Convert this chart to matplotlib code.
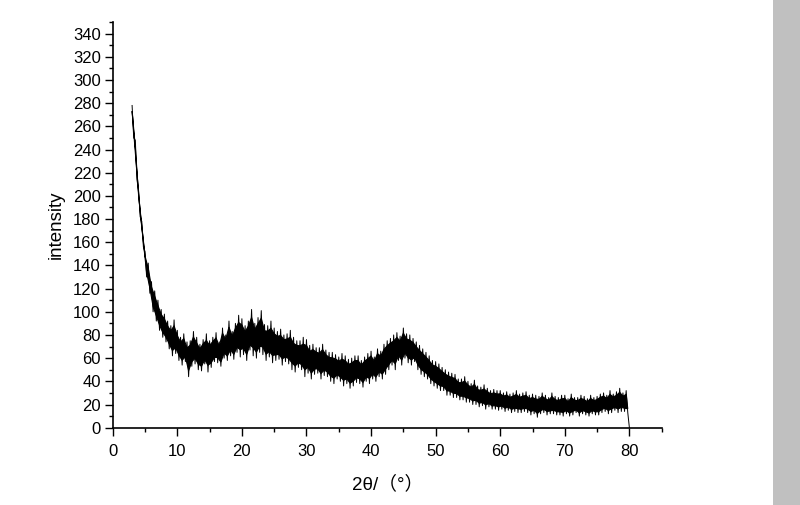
import matplotlib
matplotlib.use("Agg")
import matplotlib.pyplot as plt
import numpy as np
from matplotlib.patches import Rectangle, Polygon

# 2theta sampled every 0.25 deg from 3 to 80; intensity read off the scan as
# local highs / lows (one row per degree: x, x+.25, x+.5, x+.75)
two_theta = np.arange(3, 80.001, 0.25)
intensity = [
    278, 250, 248, 214,   # 3
    205, 182, 178, 156,   # 4
    152, 130, 142, 116,   # 5
    126, 100, 118, 92,    # 6
    110, 84, 102, 78,     # 7
    98, 74, 92, 68,       # 8
    88, 62, 93, 64,       # 9
    84, 58, 78, 54,       # 10
    81, 57, 74, 44,       # 11
    75, 53, 83, 55,       # 12
    78, 50, 72, 49,       # 13
    76, 55, 81, 48,       # 14
    75, 52, 78, 57,       # 15
    82, 56, 74, 53,       # 16
    86, 60, 80, 58,       # 17
    92, 62, 83, 59,       # 18
    90, 65, 97, 61,       # 19
    94, 63, 88, 58,       # 20
    92, 67, 102, 62,      # 21
    90, 60, 95, 65,       # 22
    101, 63, 89, 58,      # 23
    88, 61, 92, 56,       # 24
    86, 58, 83, 59,       # 25
    85, 54, 80, 57,       # 26
    81, 55, 84, 50,       # 27
    78, 48, 75, 52,       # 28
    75, 50, 78, 44,       # 29
    76, 47, 71, 42,       # 30
    72, 46, 69, 47,       # 31
    69, 42, 72, 45,       # 32
    67, 44, 65, 40,       # 33
    65, 38, 63, 42,       # 34
    61, 40, 64, 36,       # 35
    62, 38, 59, 34,       # 36
    60, 36, 62, 39,       # 37
    62, 38, 58, 35,       # 38
    61, 40, 64, 38,       # 39
    66, 42, 61, 40,       # 40
    68, 44, 66, 42,       # 41
    72, 46, 75, 50,       # 42
    77, 54, 80, 50,       # 43
    82, 58, 79, 54,       # 44
    86, 60, 81, 56,       # 45
    80, 54, 77, 57,       # 46
    74, 50, 71, 46,       # 47
    68, 44, 65, 42,       # 48
    62, 38, 58, 36,       # 49
    57, 34, 55, 32,       # 50
    52, 32, 50, 28,       # 51
    48, 28, 47, 26,       # 52
    46, 26, 42, 24,       # 53
    42, 24, 44, 22,       # 54
    40, 22, 38, 20,       # 55
    41, 20, 36, 18,       # 56
    35, 19, 37, 16,       # 57
    34, 18, 32, 16,       # 58
    33, 16, 32, 15,       # 59
    32, 16, 30, 14,       # 60
    31, 15, 29, 13,       # 61
    30, 14, 32, 13,       # 62
    29, 13, 30, 14,       # 63
    31, 13, 28, 11,       # 64
    29, 12, 28, 9,        # 65
    27, 12, 30, 13,       # 66
    28, 11, 26, 12,       # 67
    30, 12, 27, 11,       # 68
    26, 11, 28, 10,       # 69
    28, 12, 25, 10,       # 70
    29, 11, 26, 13,       # 71
    26, 10, 28, 12,       # 72
    27, 11, 25, 10,       # 73
    28, 12, 26, 11,       # 74
    27, 11, 29, 13,       # 75
    30, 14, 28, 12,       # 76
    32, 13, 29, 15,       # 77
    31, 13, 34, 14,       # 78
    30, 14, 32, 13,       # 79
    0,                    # 80
]

x_ticks = np.arange(0, 81, 10)
y_ticks = np.arange(0, 341, 20)

fig = plt.figure(figsize=(8, 5.05), dpi=100)
ax = fig.add_axes([0.1409, 0.1531, 0.6862, 0.8033])

# dense scan reads as a solid core with thin spikes: fill the inner part of
# each high/low pair, then draw the trace itself thin on top
tt = np.asarray(two_theta[:-1])
iv = np.asarray(intensity[:-1], dtype=float)
hi, lo = iv[0::2], iv[1::2]
mid, half = (hi + lo) / 2, (hi - lo) / 2
core_top = np.column_stack([tt[0::2], mid + 0.65 * half])
core_bot = np.column_stack([tt[1::2], mid - 0.65 * half])
ax.add_patch(Polygon(np.vstack([core_top, core_bot[::-1]]), closed=True,
                     facecolor='black', edgecolor='black', linewidth=0.8))
ax.plot(two_theta, intensity, color='black', linewidth=0.7)

ax.set_xlim(0, 85)
ax.set_ylim(0, 350)
ax.set_xticks(x_ticks)
ax.set_xticks(np.arange(5, 86, 10), minor=True)
ax.set_yticks(y_ticks)
ax.set_yticks(np.arange(10, 351, 20), minor=True)

for s in ['top', 'right']:
    ax.spines[s].set_visible(False)
for s in ['left', 'bottom']:
    ax.spines[s].set_linewidth(1.2)

ax.tick_params(which='major', direction='out', length=5.5, width=1, labelsize=12)
ax.tick_params(axis='y', which='major', pad=3)
ax.tick_params(axis='x', which='major', pad=6)
ax.tick_params(which='minor', direction='out', length=3, width=1)
for lab in ax.get_xticklabels() + ax.get_yticklabels():
    lab.set_family('Liberation Sans')

ax.set_ylabel('intensity', family='Liberation Sans', fontsize=13.5, labelpad=6)
ax.set_xlabel('2θ/（°）', family=['Liberation Sans', 'Noto Sans CJK SC'], fontsize=13.5, labelpad=12)

fig.patches.append(Rectangle((773 / 800, 0), 27 / 800, 1, transform=fig.transFigure,
                             facecolor='#c0c0c0', edgecolor='none'))

fig.savefig('out.png', dpi=100)
